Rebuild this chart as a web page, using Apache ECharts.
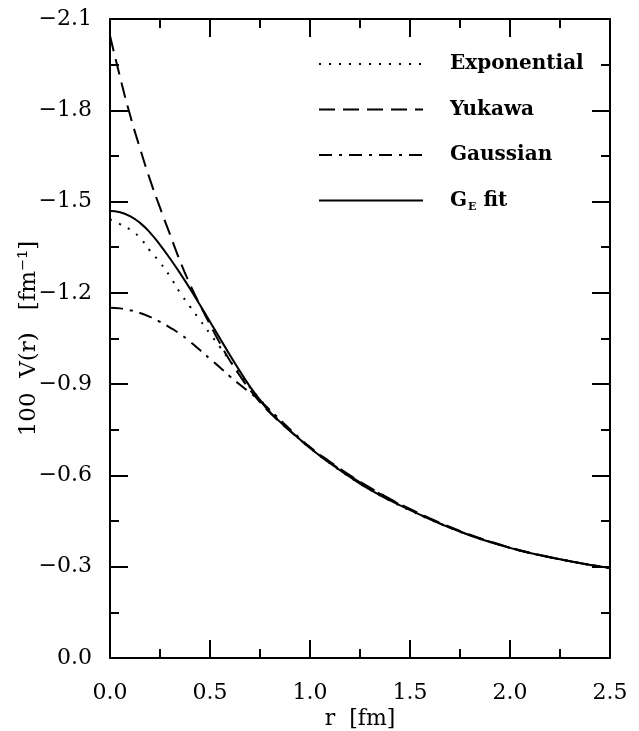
<!DOCTYPE html>
<html>
<head>
<meta charset="utf-8">
<script src="https://cdn.jsdelivr.net/npm/echarts@6/dist/echarts.min.js"></script>
<style>
  html, body { margin: 0; padding: 0; background: #fff; }
  #main { width: 639px; height: 731px; }
</style>
</head>
<body>
<div id="main"></div>
<script>
// r in fm
const rValues = [0, 0.05, 0.1, 0.15, 0.2, 0.25, 0.3, 0.35, 0.4, 0.45, 0.5, 0.55, 0.6, 0.65, 0.7, 0.75, 0.8,
  0.9, 1.0, 1.1, 1.2, 1.3, 1.4, 1.5, 1.6, 1.7, 1.8, 1.9, 2.0, 2.1, 2.2, 2.3, 2.4, 2.5];

// 100 V(r) in fm^-1
const exponential = [-1.441, -1.426, -1.408, -1.381, -1.338, -1.300, -1.254, -1.201, -1.155, -1.110, -1.066, -1.022,
  -0.976, -0.933, -0.889, -0.850, -0.812, -0.748, -0.690, -0.640, -0.594, -0.553, -0.517, -0.485, -0.455, -0.428,
  -0.403, -0.381, -0.362, -0.345, -0.331, -0.318, -0.306, -0.296];
const yukawa = [-2.045, -1.910, -1.785, -1.675, -1.572, -1.480, -1.392, -1.305, -1.228, -1.160, -1.096, -1.034,
  -0.977, -0.927, -0.881, -0.841, -0.806, -0.746, -0.692, -0.645, -0.600, -0.560, -0.523, -0.490, -0.459, -0.431,
  -0.405, -0.383, -0.363, -0.346, -0.331, -0.318, -0.306, -0.296];
const gaussian = [-1.151, -1.149, -1.143, -1.134, -1.121, -1.105, -1.086, -1.065, -1.040, -1.012, -0.983, -0.955,
  -0.925, -0.898, -0.872, -0.845, -0.815, -0.752, -0.693, -0.643, -0.598, -0.558, -0.521, -0.488, -0.457, -0.429,
  -0.404, -0.382, -0.362, -0.345, -0.331, -0.318, -0.306, -0.296];
const geFit = [-1.469, -1.465, -1.452, -1.430, -1.398, -1.358, -1.313, -1.265, -1.214, -1.160, -1.105, -1.050,
  -0.995, -0.942, -0.892, -0.848, -0.808, -0.747, -0.690, -0.640, -0.595, -0.553, -0.518, -0.486, -0.456, -0.428,
  -0.403, -0.381, -0.362, -0.345, -0.331, -0.318, -0.306, -0.296];

const seriesNames = ['Exponential', 'Yukawa', 'Gaussian', 'G_E fit'];

function pairs(vals) {
  return rValues.map(function (r, i) { return [r, vals[i]]; });
}

var chartDom = document.getElementById('main');
var myChart = echarts.init(chartDom, null, { renderer: 'canvas' });
var option;

const font = 'DejaVu Serif';
const axisLine = { show: true, onZero: false, lineStyle: { color: '#000', width: 2 } };
const majorTick = { show: true, inside: true, length: 18, lineStyle: { color: '#000', width: 2 } };
const minorTick = { show: true, splitNumber: 2, length: 9, lineStyle: { color: '#000', width: 2 } };

function yLabel(v) {
  if (Math.abs(v) < 1e-9) return '0.0';
  return '\u2212' + Math.abs(v).toFixed(1);
}

function lineSeries(name, vals, dash) {
  return {
    name: name,
    type: 'line',
    xAxisIndex: 0,
    yAxisIndex: 0,
    smooth: true,
    symbol: 'none',
    itemStyle: { color: '#000' },
    lineStyle: { color: '#000', width: 2, type: dash },
    data: pairs(vals)
  };
}

option = {
  animation: false,
  backgroundColor: '#fff',
  grid: { left: 110, right: 29, top: 19, bottom: 73, outerBoundsMode: 'none' },
  legend: {
    orient: 'vertical',
    left: 313,
    top: 49,
    itemWidth: 104,
    itemHeight: 18,
    itemGap: 25.5,
    data: seriesNames,
    itemStyle: { opacity: 0 },
    formatter: function (name) {
      if (name === 'G_E fit') return '{t|G}{s|E}{t| fit}';
      return '{t|' + name + '}';
    },
    textStyle: {
      color: '#000',
      fontFamily: font,
      fontSize: 20,
      fontWeight: 'bold',
      padding: [0, 0, 0, 22],
      rich: {
        t: { fontFamily: font, fontSize: 20, fontWeight: 'bold', color: '#000' },
        s: { fontFamily: font, fontSize: 11, fontWeight: 'bold', color: '#000', padding: [13, 0, 0, 1] }
      }
    }
  },
  xAxis: [
    {
      type: 'value',
      min: 0,
      max: 2.5,
      interval: 0.5,
      position: 'bottom',
      name: 'r  [fm]',
      nameLocation: 'middle',
      nameGap: 50,
      nameMoveOverlap: false,
      nameTextStyle: { color: '#000', fontFamily: font, fontSize: 22 },
      axisLine: axisLine,
      axisTick: majorTick,
      minorTick: minorTick,
      splitLine: { show: false },
      axisLabel: {
        color: '#000', fontFamily: font, fontSize: 22, margin: 24,
        formatter: function (v) { return v.toFixed(1); }
      }
    },
    {
      type: 'value',
      min: 0,
      max: 2.5,
      interval: 0.5,
      position: 'top',
      axisLine: axisLine,
      axisTick: majorTick,
      minorTick: minorTick,
      splitLine: { show: false },
      axisLabel: { show: false }
    }
  ],
  yAxis: [
    {
      type: 'value',
      min: -2.1,
      max: 0,
      interval: 0.3,
      inverse: true,
      position: 'left',
      name: '100  V(r)   [fm\u207B\u00B9]',
      nameLocation: 'middle',
      nameGap: 69,
      nameRotate: 90,
      nameMoveOverlap: false,
      nameTextStyle: { color: '#000', fontFamily: font, fontSize: 23 },
      axisLine: axisLine,
      axisTick: majorTick,
      minorTick: minorTick,
      splitLine: { show: false },
      axisLabel: {
        color: '#000', fontFamily: font, fontSize: 22, margin: 18,
        formatter: yLabel
      }
    },
    {
      type: 'value',
      min: -2.1,
      max: 0,
      interval: 0.3,
      inverse: true,
      position: 'right',
      axisLine: axisLine,
      axisTick: majorTick,
      minorTick: minorTick,
      splitLine: { show: false },
      axisLabel: { show: false }
    }
  ],
  series: [
    lineSeries('Exponential', exponential, [2, 8]),
    lineSeries('Yukawa', yukawa, [16, 8]),
    lineSeries('Gaussian', gaussian, [13, 7, 3, 7]),
    lineSeries('G_E fit', geFit, 'solid')
  ]
};

option && myChart.setOption(option);
</script>
</body>
</html>
